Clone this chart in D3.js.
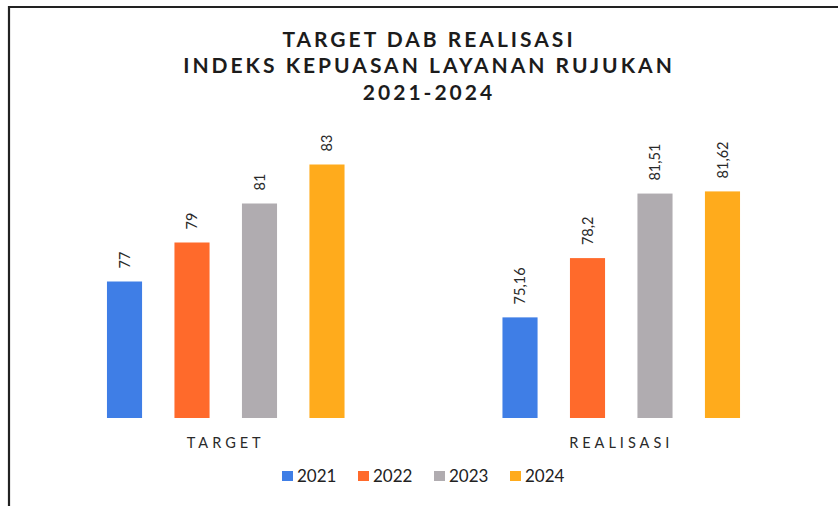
<!DOCTYPE html>
<html>
<head>
<meta charset="utf-8">
<script src="https://cdn.jsdelivr.net/npm/d3@7"></script>
<style>
  body { margin: 0; background: #fff; }
  svg { display: block; font-family: Lato, "Open Sans", sans-serif; }
</style>
</head>
<body>
<div id="chart"></div>
<script>
var categories = ['TARGET', 'REALISASI'];
var years = ['2021', '2022', '2023', '2024'];
var target = [77, 79, 81, 83];
var realisasi = [75.16, 78.2, 81.51, 81.62];
var valueLabels = [['77', '79', '81', '83'], ['75,16', '78,2', '81,51', '81,62']];
var titleLines = ['TARGET DAB REALISASI', 'INDEKS KEPUASAN LAYANAN RUJUKAN', '2021-2024'];
var colors = ['#3f7ee6', '#ff6a2b', '#b0acb0', '#ffab1c'];

var W = 838, H = 506;
var svg = d3.select('#chart').append('svg').attr('width', W).attr('height', H);

// frame (only top and left visible in the scan)
svg.append('path')
  .attr('d', 'M9,506 L9,7 L838,7')
  .attr('fill', 'none')
  .attr('stroke', '#222')
  .attr('stroke-width', 2.2);

// title
svg.append('g').selectAll('text')
  .data(titleLines)
  .enter().append('text')
  .attr('x', 429)
  .attr('y', function(d, i){ return 47 + i * 26.3; })
  .attr('text-anchor', 'middle')
  .attr('font-size', 21)
  .attr('font-weight', 'bold')
  .attr('letter-spacing', 3)
  .attr('fill', '#1c1c1c')
  .text(function(d){ return d; });

var data = categories.map(function(c, i){
  var vals = i == 0 ? target : realisasi;
  return { cat: c, values: vals.map(function(v, j){ return { year: years[j], value: v, label: valueLabels[i][j] }; }) };
});

var x0 = d3.scaleBand().domain(categories).range([28, 819]);
var x1 = d3.scaleBand().domain(years).range([0, x0.bandwidth()]).paddingInner(0.48).paddingOuter(1.17);
var y = d3.scaleLinear().domain([70, 84]).range([418, 145]);
var color = d3.scaleOrdinal().domain(years).range(colors);

var groups = svg.append('g').selectAll('g')
  .data(data)
  .enter().append('g')
  .attr('transform', function(d){ return 'translate(' + x0(d.cat) + ',0)'; });

groups.selectAll('rect')
  .data(function(d){ return d.values; })
  .enter().append('rect')
  .attr('x', function(d){ return x1(d.year); })
  .attr('y', function(d){ return y(d.value); })
  .attr('width', x1.bandwidth())
  .attr('height', function(d){ return y(70) - y(d.value); })
  .attr('fill', function(d){ return color(d.year); });

groups.selectAll('text.val')
  .data(function(d){ return d.values; })
  .enter().append('text')
  .attr('class', 'val')
  .attr('transform', function(d){
    return 'translate(' + (x1(d.year) + x1.bandwidth() / 2) + ',' + (y(d.value) - 13) + ') rotate(-90)';
  })
  .attr('dy', '0.35em')
  .attr('font-size', 14.5)
  .attr('fill', '#2a2a2a')
  .text(function(d){ return d.label; });

// category axis labels
svg.append('g').selectAll('text')
  .data(categories)
  .enter().append('text')
  .attr('x', function(d){ return x0(d) + x0.bandwidth() / 2; })
  .attr('y', 448)
  .attr('text-anchor', 'middle')
  .attr('font-size', 14.5)
  .attr('letter-spacing', 4)
  .attr('fill', '#2a2a2a')
  .text(function(d){ return d; });

// legend
var legend = svg.append('g').selectAll('g')
  .data(years)
  .enter().append('g')
  .attr('transform', function(d, i){ return 'translate(' + (282 + i * 76) + ',0)'; });
legend.append('rect')
  .attr('x', 0).attr('y', 471)
  .attr('width', 11).attr('height', 10)
  .attr('fill', function(d){ return color(d); });
legend.append('text')
  .attr('x', 15).attr('y', 482)
  .attr('font-size', 17)
  .attr('fill', '#222')
  .text(function(d){ return d; });
</script>
</body>
</html>
